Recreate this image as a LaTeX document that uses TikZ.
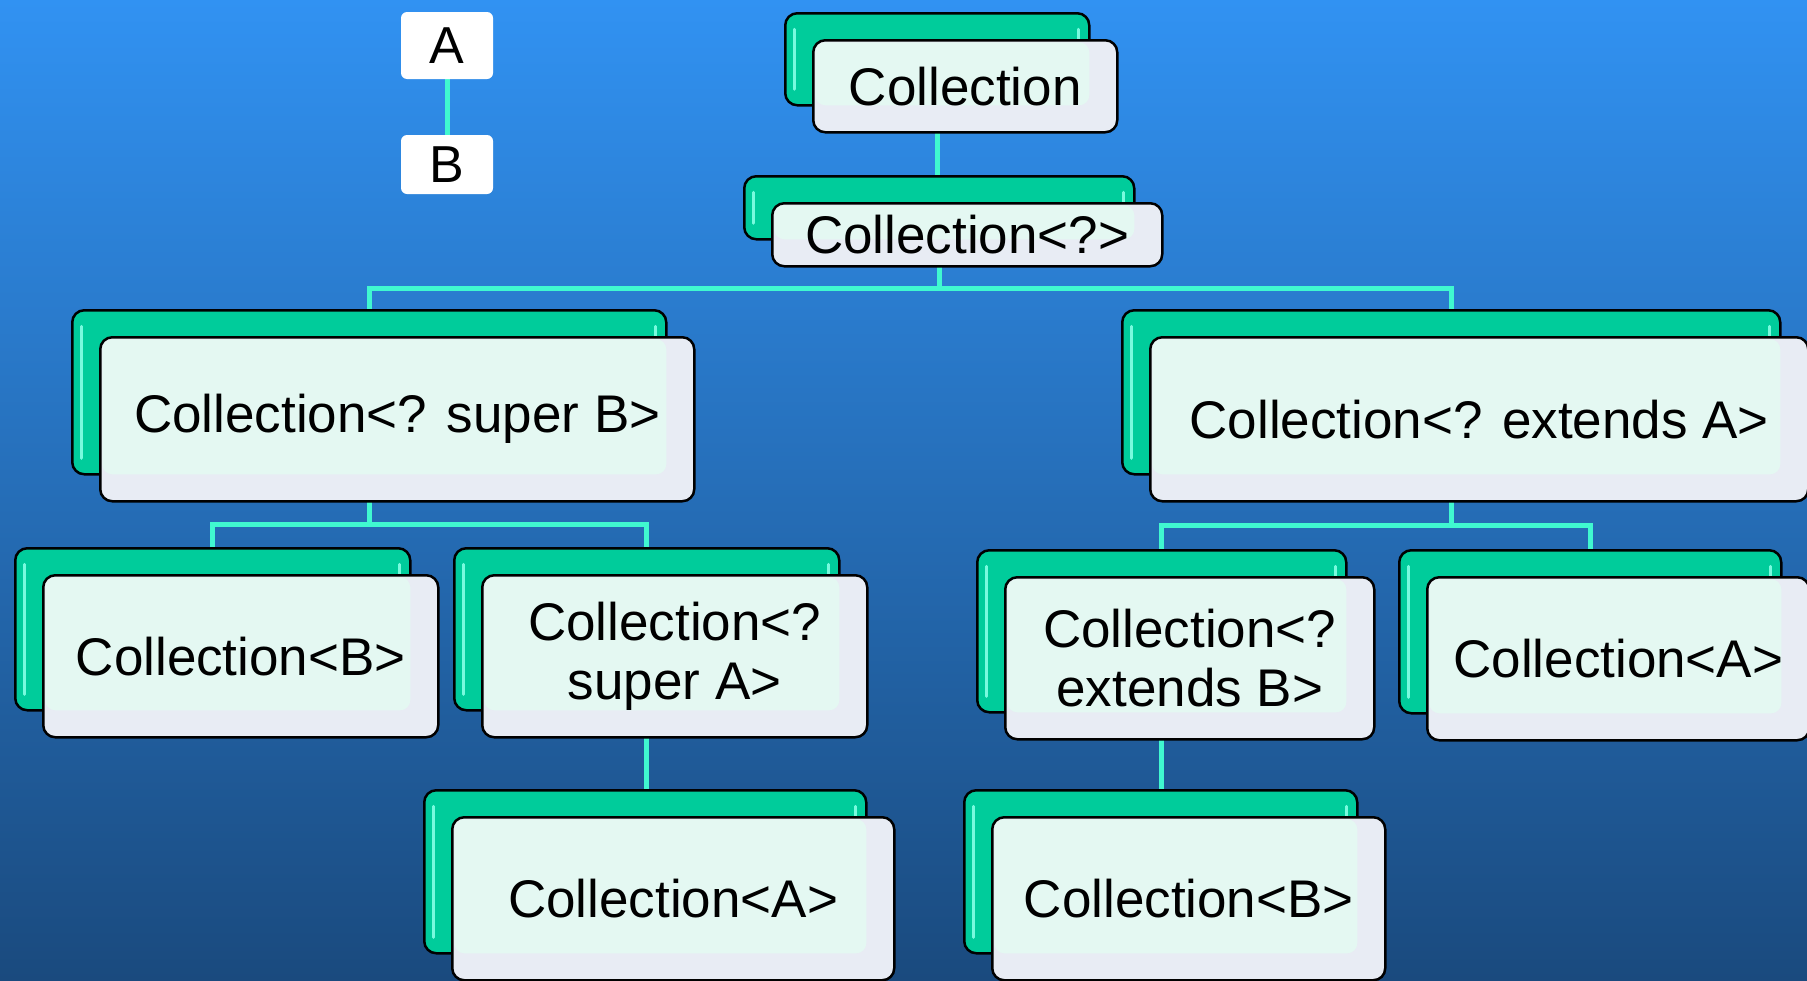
\documentclass[tikz,border=0pt]{standalone}
\usepackage{fontspec}
\setmainfont{Liberation Sans}
\definecolor{skytop}{RGB}{49,146,242}
\definecolor{skybot}{RGB}{26,74,126}
\definecolor{cardgreen}{RGB}{0,204,155}
\definecolor{cardshine}{RGB}{120,250,222}
\definecolor{cardmint}{RGB}{228,248,242}
\definecolor{cardgrey}{RGB}{232,236,244}
\definecolor{wirecol}{RGB}{64,248,208}
\pgfdeclarelayer{back}
\pgfdeclarelayer{wires}
\pgfsetlayers{back,wires,main}
\tikzset{
backcard/.style={draw=black,line width=2.5pt,fill=cardgreen,rounded corners=12pt,inner sep=0pt,anchor=north west,
path picture={\draw[cardshine,line width=3pt,line cap=round]([shift={(9pt,-16pt)}]path picture bounding box.north west)--([shift={(9pt,16pt)}]path picture bounding box.south west);
\draw[cardshine,line width=3pt,line cap=round]([shift={(-11pt,-16pt)}]path picture bounding box.north east)--([shift={(-11pt,16pt)}]path picture bounding box.south east);}},
frontcard/.style={draw=black,line width=2.5pt,fill=cardgrey,rounded corners=12pt,inner sep=0pt,align=center,anchor=north west,
font=\fontsize{53}{59}\selectfont,
path picture={\fill[cardmint,rounded corners=10pt]([shift={(2pt,-2pt)}]path picture bounding box.north west) rectangle ([shift={(-28pt,27pt)}]path picture bounding box.south east);}},
wire/.style={draw=wirecol,line width=5pt},
legend/.style={fill=white,rounded corners=6pt,minimum width=92pt,inner sep=0pt,font=\fontsize{52}{56}\selectfont}
}
\begin{document}
\begin{tikzpicture}[x=1pt,y=-1pt]
\newcommand{\Card}[6]{
\node[backcard,minimum width=#4pt,minimum height=#5pt](g#1) at (#2,#3){};
\node[frontcard,minimum width=#4pt,minimum height=#5pt](#1) at ([shift={(28pt,-27pt)}]g#1.north west){#6};}
\useasboundingbox (0,0) rectangle (1807,980);
\begin{pgfonlayer}{back}
\shade[top color=skytop,bottom color=skybot](0,0) rectangle (1807,980);
\end{pgfonlayer}
\node[legend,minimum height=67pt](la) at (447,45.5){A};
\node[legend,minimum height=59pt](lb) at (447,164.5){B};
\Card{top}{784}{12}{304}{92}{Collection}
\Card{qm}{743}{175}{390}{63}{Collection<?>}
\Card{sB}{71}{309}{594}{164}{Collection<? super B>}
\Card{eA}{1121}{309}{658}{164}{Collection<? extends A>}
\Card{cB}{14}{547}{395}{162}{Collection<B>}
\Card{sA}{453}{547}{385}{162}{Collection<?\\super A>}
\Card{cAl}{423}{789}{442}{163}{Collection<A>}
\Card{eB}{976}{549}{369}{162}{Collection<?\\extends B>}
\Card{cAr}{1398}{549}{382}{163}{Collection<A>}
\Card{cBr}{963}{789}{393}{163}{Collection<B>}
\begin{pgfonlayer}{wires}
\draw[wire](la)--(lb);
\draw[wire](gtop.center)--(gtop.center|-gqm.center);
\draw[wire](gqm)--(gqm|-0,288)-|(gsB);
\draw[wire](gqm|-0,288)-|(geA);
\draw[wire](gsB)--(gsB|-0,524)-|(gcB);
\draw[wire](gsB|-0,524)-|(gsA);
\draw[wire](gsA.center)--(gsA.center|-gcAl.center);
\draw[wire](geA)--(geA|-0,525)-|(geB);
\draw[wire](geA|-0,525)-|(gcAr);
\draw[wire](geB.center)--(geB.center|-gcBr.center);
\end{pgfonlayer}
\end{tikzpicture}
\end{document}
